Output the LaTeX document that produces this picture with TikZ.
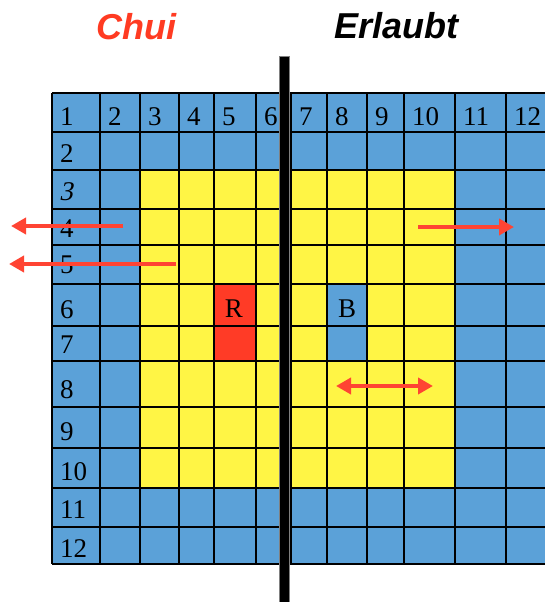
\documentclass[tikz,border=0pt]{standalone}
\usepackage{fontspec}
\setmainfont{Liberation Serif}
\newfontfamily\titlefont{Liberation Sans}
\newfontfamily\italicserif[FakeSlant=0.22]{Liberation Serif}
\usetikzlibrary{arrows.meta}
\definecolor{cellblue}{RGB}{91,161,216}
\definecolor{cellyellow}{RGB}{255,245,69}
\definecolor{cellred}{RGB}{255,59,38}
\definecolor{arrowred}{RGB}{255,68,51}
\definecolor{titlered}{RGB}{255,59,34}
\begin{document}
\begin{tikzpicture}[x=1pt,y=-1pt,
  gridline/.style={line width=1.5pt,black},
  numlabel/.style={anchor=base west,inner sep=0pt,font=\fontsize{27}{27}\selectfont},
  celllabel/.style={anchor=base,inner sep=0pt,font=\fontsize{27}{27}\selectfont},
  titlelabel/.style={anchor=base west,inner sep=0pt,font=\titlefont\bfseries\itshape\fontsize{36}{36}\selectfont},
  redarrow/.style={line width=3.8pt,arrowred,-{Triangle[length=15pt,width=16pt]}},
  redarrowboth/.style={line width=3.8pt,arrowred,{Triangle[length=15pt,width=16pt]}-{Triangle[length=15pt,width=16pt]}},
  barstyle/.style={fill=black,draw=gray,line width=0.6pt}]
\useasboundingbox (0,0) rectangle (545,602);
\clip (0,0) rectangle (545,602);
\fill[white] (0,0) rectangle (545,602);
% column and row boundaries
\def\colsX{52,100,140,179,214,256,291,327,367,404,455,506,560}
\def\rowsY{93,132,170,209,245,284,326,361,407,448,488,527,564}
% fills
\fill[cellblue] (52,93) rectangle (560,564);
\fill[cellyellow] (140,170) rectangle (455,488);
\fill[cellred] (214,284) rectangle (256,361);
\fill[cellblue] (327,284) rectangle (367,361);
% grid lines
\foreach \x in \colsX { \draw[gridline] (\x,93) -- (\x,564); }
\foreach \y in \rowsY { \draw[gridline] (52,\y) -- (560,\y); }
% column numbers (row 1)
\foreach \n/\x in {1/52,2/100,3/140,4/179,5/214,6/256,7/291,8/327,9/367,10/404,11/455,12/506}
  { \node[numlabel] (c\n) at (\x+8,125) {\n}; }
% row numbers (column 1)
\node[numlabel] (r2) at (60,162) {2};
\node[numlabel] (r3) at (59,200) {\italicserif 3};
\node[numlabel] (r4) at (60,237) {4};
\node[numlabel] (r5) at (60,273) {5};
\node[numlabel] (r6) at (60,318) {6};
\node[numlabel] (r7) at (60,353) {7};
\node[numlabel] (r8) at (60,398) {8};
\node[numlabel] (r9) at (60,440) {9};
\node[numlabel] (r10) at (60,480) {10};
\node[numlabel] (r11) at (60,518) {11};
\node[numlabel] (r12) at (60,557) {12};
% R and B
\node[celllabel] (R) at (234,317) {R};
\node[celllabel] (B) at (347,317) {B};
% thick bar
\draw[barstyle] (279.5,56) rectangle (289.5,610);
% titles
\node[titlelabel,text=titlered] (chui) at (96,40) {Chui};
\node[titlelabel,text=black] (erlaubt) at (334,39) {Erlaubt};
% arrows
\coordinate (a1s) at (123,226); \coordinate (a1e) at (11,226);
\coordinate (a2s) at (176,264); \coordinate (a2e) at (9,264);
\coordinate (a3s) at (418,227); \coordinate (a3e) at (514,227);
\coordinate (a4s) at (336,386); \coordinate (a4e) at (433,386);
\draw[redarrow] (a1s) -- (a1e);
\draw[redarrow] (a2s) -- (a2e);
\draw[redarrow] (a3s) -- (a3e);
\draw[redarrowboth] (a4s) -- (a4e);
\end{tikzpicture}
\end{document}
